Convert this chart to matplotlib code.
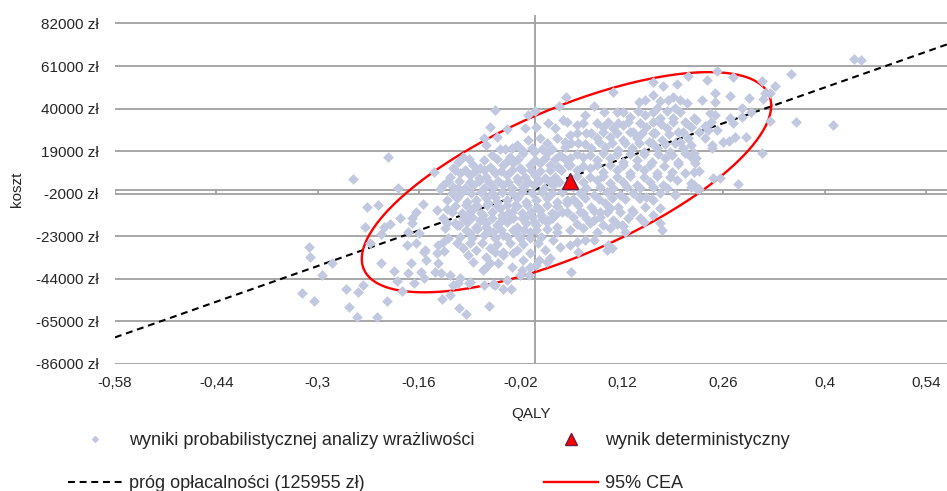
import numpy as np
import matplotlib.pyplot as plt
from matplotlib.lines import Line2D

# wyniki PSA: QALY (różnica) i koszt (zł)
qaly = [
    -0.203, -0.251, -0.140, -0.189, -0.131, -0.232, -0.217, -0.155, -0.136, -0.165,
    -0.170, -0.187, -0.200, -0.208, -0.235, -0.213, -0.175, -0.160, -0.228, -0.177,
    -0.164, -0.127, -0.312, -0.311, -0.280, -0.294, -0.212, -0.195, -0.176, -0.158,
    -0.153, -0.150, -0.136, -0.126, -0.134, -0.153, -0.130, -0.171, -0.190, -0.167,
    -0.183, -0.237, -0.261, -0.245, -0.322, -0.305, -0.257, -0.204, -0.246, -0.218,
    -0.128, -0.170, -0.122, -0.108, -0.106, -0.111, -0.124, -0.127, -0.105, -0.094,
    -0.085, -0.072, -0.090, -0.076, -0.067, -0.065, -0.055, -0.048, -0.037, -0.048,
    -0.058, -0.044, -0.030, -0.025, -0.021, -0.028, -0.014, -0.007, -0.002, 0.007,
    0.016, 0.030, 0.028, 0.044, 0.058, 0.067, 0.081, 0.090, 0.104, 0.120,
    0.106, 0.099, 0.069, 0.060, 0.048, 0.050, 0.016, 0.005, -0.007, -0.018,
    -0.008, -0.030, -0.044, -0.055, -0.062, -0.072, -0.067, -0.081, -0.092, -0.099,
    -0.108, -0.120, -0.134, -0.138, -0.117, -0.104, -0.106, -0.090, -0.071, -0.058,
    -0.044, -0.033, -0.063, -0.105, -0.095, -0.117, -0.152, -0.113,
    # rdzeń chmury (lewa część)
    -0.055, 0.000, -0.009, 0.033, 0.043, -0.062, -0.038, -0.014, 0.002, 0.018,
    0.028, 0.039, -0.071, -0.053, -0.067, -0.041, -0.025, -0.009, 0.007, 0.016,
    0.030, 0.041, -0.060, -0.035, -0.016, -0.002, 0.016, 0.035, -0.085, -0.099,
    -0.106, -0.076, -0.062, -0.044, -0.030, -0.021, -0.007, 0.007, 0.021, 0.032,
    0.046, -0.117, -0.104, -0.090, -0.078, -0.067, -0.055, -0.039, -0.025, -0.014,
    0.000, 0.014, 0.028, -0.127, -0.113, -0.097, -0.085, -0.071, -0.058, -0.044,
    -0.032, -0.016, -0.002, 0.012, 0.025, -0.122, -0.108, -0.094, -0.081, -0.067,
    -0.053, -0.039, -0.025, -0.012, 0.002, 0.016, 0.030, 0.044, -0.115, -0.101,
    -0.087, -0.074, -0.060, -0.046, -0.032, -0.018, -0.005, 0.009, 0.023, 0.037,
    -0.122, -0.108, -0.094, -0.081, -0.067, -0.053, -0.039, -0.025, -0.012, 0.002,
    0.016, 0.030, -0.104, -0.087, -0.071, -0.055, -0.039, -0.023, -0.007, 0.009,
    0.025, -0.062, -0.044, -0.025, -0.007, 0.014, 0.035, -0.085, -0.069, -0.051,
    -0.032, -0.016, 0.002, 0.021, -0.055, -0.039, -0.021, -0.113, -0.091,
    # rdzeń chmury (lewa część, gęste wypełnienie)
    -0.048, -0.032, -0.018, -0.004, 0.010, 0.024,
    -0.091, -0.070, -0.052, -0.037, -0.023, 0.000, 0.014, 0.028, 0.041,
    -0.110, -0.097, -0.083, -0.071, -0.060, -0.047, -0.032, -0.018, -0.005, 0.007, 0.021, 0.036,
    -0.120, -0.105, -0.090, -0.078, -0.064, -0.051, -0.037, -0.023, -0.009, 0.005, 0.019, 0.033,
    -0.115, -0.101, -0.088, -0.074, -0.060, -0.046, -0.032, -0.018, -0.004, 0.010, 0.024, 0.038,
    -0.110, -0.095, -0.080, -0.066, -0.053, -0.039, -0.025, -0.011, 0.003, 0.017, 0.031,
    -0.100, -0.087, -0.073, -0.060, -0.046, -0.032, -0.018, -0.004, 0.010, 0.024,
    -0.095, -0.080, -0.063, -0.047, -0.031, -0.015, 0.001, 0.017,
    -0.090, -0.073, -0.053, -0.035, -0.016, 0.004,
    # rdzeń chmury (prawa część)
    0.211, 0.177, 0.196, 0.163, 0.163, 0.108, 0.081, 0.143, 0.184, 0.193,
    0.210, 0.168, 0.069, 0.113, 0.131, 0.152, 0.173, 0.191, 0.207, 0.219,
    0.044, 0.058, 0.094, 0.108, 0.122, 0.136, 0.154, 0.163, 0.182, 0.198,
    0.216, 0.048, 0.071, 0.085, 0.104, 0.122, 0.141, 0.157, 0.175, 0.193,
    0.212, 0.041, 0.060, 0.078, 0.097, 0.115, 0.134, 0.150, 0.168, 0.187,
    0.205, 0.048, 0.067, 0.085, 0.104, 0.122, 0.141, 0.161, 0.180, 0.198,
    0.216, 0.058, 0.076, 0.094, 0.113, 0.131, 0.150, 0.168, 0.189, 0.207,
    0.067, 0.085, 0.104, 0.122, 0.141, 0.159, 0.177, 0.196, 0.216, 0.062,
    0.081, 0.099, 0.117, 0.136, 0.154, 0.173, 0.193, 0.044, 0.060, 0.078,
    0.097, 0.115, 0.134, 0.152, 0.173, 0.053, 0.071, 0.090, 0.108, 0.129,
    0.150, 0.173, 0.048, 0.067, 0.085, 0.104, 0.124, 0.058, 0.081, 0.101,
    # rdzeń chmury (prawa część, gęste wypełnienie)
    0.152, 0.173, 0.200,
    0.095, 0.122, 0.142, 0.163, 0.182, 0.200,
    0.067, 0.085, 0.101, 0.115, 0.129, 0.145, 0.163, 0.174, 0.190, 0.208,
    0.058, 0.078, 0.094, 0.113, 0.131, 0.148, 0.166, 0.185, 0.205,
    0.050, 0.069, 0.088, 0.106, 0.125, 0.143, 0.161, 0.180, 0.200,
    0.058, 0.076, 0.094, 0.113, 0.131, 0.150, 0.170, 0.189, 0.207,
    0.048, 0.067, 0.085, 0.104, 0.122, 0.141, 0.159, 0.178, 0.198,
    0.058, 0.076, 0.094, 0.113, 0.131, 0.150, 0.168, 0.187,
    0.053, 0.071, 0.090, 0.108, 0.127, 0.145, 0.163, 0.182,
    0.053, 0.069, 0.088, 0.106, 0.124, 0.143, 0.161,
    0.062, 0.081, 0.099, 0.117, 0.136,
    0.058, 0.076, 0.094, 0.113,
    # prawy skraj
    0.441, 0.450, 0.251, 0.353, 0.238, 0.273, 0.313, 0.331, 0.318, 0.325,
    0.269, 0.295, 0.249, 0.230, 0.249, 0.315, 0.286, 0.299, 0.242, 0.249,
    0.223, 0.269, 0.286, 0.325, 0.361, 0.412, 0.235, 0.274, 0.243, 0.226,
    0.239, 0.251, 0.276, 0.292, 0.235, 0.259, 0.268, 0.244, 0.244, 0.313,
    0.216, 0.219, 0.223, 0.221, 0.219, 0.226, 0.246, 0.255, 0.281, 0.219,
    0.224, 0.191, 0.145, 0.163, 0.175, 0.122, 0.145, 0.163, 0.193, 0.216,
    0.226,
]
koszt = [
    15900, 5100, 8800, 900, 100, -8800, -7600, -7100, -10100, -10900,
    -13900, -14200, -17000, -18300, -18600, -22100, -21100, -21600, -26200, -27400,
    -26200, -25800, -28500, -33200, -36400, -42200, -36400, -40100, -41400, -40600,
    -30700, -34800, -31500, -30300, -36400, -43500, -41400, -36400, -45200, -46300,
    -50000, -47100, -49100, -50700, -50900, -54900, -57900, -54900, -62800, -62800,
    -54100, -16700, -9600, -3500, 600, -16700, -19100, -14200, -17500, -12600,
    -9300, -12600, -21600, -15000, -18300, -6800, -3500, -9300, -11700, -15900,
    -20800, -22400, -14200, -19100, -24100, -7600, -13400, -20800, -15900, -10100,
    -15000, -20800, -12600, -10900, -6800, -11700, -15000, -10900, -9300, -17500,
    -29000, -29900, -24900, -30700, -27400, -40900, -35600, -34800, -38100, -39700,
    -42200, -31500, -32300, -30700, -36400, -39700, -33200, -29900, -32300, -29000,
    -26500, -24100, -27400, -40600, -42200, -43800, -46300, -45500, -47100, -46800,
    -49100, -49100, -57400, -58700, -61500, -52100, -29900, 10500,
    # rdzeń chmury (lewa część)
    39300, 38800, 36800, 41400, 45600, 30800, 29800, 30300, 31100, 32700,
    30300, 34400, 25300, 26100, 22000, 19900, 22000, 24500, 25300, 22900,
    25300, 23600, 17100, 16200, 17900, 18700, 17900, 17100, 12100, 16200,
    13800, 10500, 11300, 12100, 13000, 10500, 12100, 13000, 12100, 11300,
    12100, 6400, 8000, 7200, 5600, 6400, 8000, 7200, 5600, 6400,
    7200, 5600, 6400, 2300, 1400, 600, 2300, 600, 1400, 2300,
    600, 1400, 2300, 600, 2300, -5200, -4300, -6000, -5200, -4300,
    -6000, -5200, -4300, -6000, -5200, -4300, -6000, -5200, -10900, -11700,
    -10100, -11700, -10900, -12600, -10900, -11700, -10900, -12600, -11700, -10900,
    -16700, -17500, -15900, -18300, -16700, -17500, -15900, -18300, -16700, -17500,
    -15900, -18300, -23300, -24100, -22400, -24100, -23300, -22400, -24100, -23300,
    -24900, -29000, -30700, -29900, -31500, -29900, -28200, -35600, -38900, -36400,
    -38100, -34800, -37300, -34000, -47100, -44700, -42200, -47100, -46300,
    # rdzeń chmury (lewa część, gęste wypełnienie)
    20000, 20500, 19600, 20300, 19800, 20200,
    15000, 14600, 15300, 14800, 15200, 14700, 15400, 14900, 15100,
    9500, 9800, 9200, 9600, 9900, 9300, 9700, 9400, 9800, 9200, 9600, 9500,
    4000, 4300, 3700, 4100, 3800, 4200, 3900, 4400, 3600, 4000, 4300, 3800,
    -1500, -1200, -1800, -1400, -1700, -1300, -1600, -1100, -1900, -1400, -1600, -1300,
    -8000, -7700, -8300, -7900, -8200, -7800, -8100, -7600, -8400, -7900, -8100,
    -14000, -13700, -14300, -13900, -14200, -13800, -14100, -13600, -14400, -13900,
    -20000, -19700, -20300, -19900, -20200, -19800, -20100, -19600,
    -26500, -26200, -26800, -26400, -26700, -26300,
    # rdzeń chmury (prawa część)
    56300, 51300, 52000, 53000, 46700, 48300, 41400, 43400, 44200, 40400,
    42600, 40100, 36800, 38500, 36000, 36800, 35200, 35200, 33500, 35200,
    33500, 31900, 31100, 30300, 31900, 28600, 31100, 27800, 30300, 28600,
    31100, 27000, 27800, 25300, 26100, 24500, 25300, 23600, 24500, 22900,
    25300, 21200, 22900, 20400, 21200, 19500, 20400, 18700, 20400, 18700,
    20400, 15400, 16200, 14600, 15400, 13800, 14600, 13800, 15400, 13800,
    16200, 9700, 10500, 8800, 9700, 8000, 9700, 8000, 8800, 8000,
    3900, 4700, 3100, 3900, 2300, 3900, 2300, 4700, 3100, -1800,
    -2700, -1100, -2700, -1800, -3500, -1800, -2700, -6800, -7600, -8500,
    -6800, -8500, -10100, -8500, -9300, -13400, -14200, -13400, -15000, -14200,
    -15900, -16700, -20000, -19100, -20800, -19100, -20800, -25800, -24900, -27400,
    # rdzeń chmury (prawa część, gęste wypełnienie)
    44000, 43600, 44300,
    38500, 38200, 38800, 38400, 38700, 38300,
    33000, 32700, 33300, 32900, 33200, 32800, 33100, 32600, 33400, 32900,
    28000, 27700, 28300, 27900, 28200, 27800, 28100, 27600, 28400,
    23000, 22700, 23300, 22900, 23200, 22800, 23100, 22600, 23400,
    17500, 17200, 17800, 17400, 17700, 17300, 17600, 17100, 17900,
    12000, 11700, 12300, 11900, 12200, 11800, 12100, 11600, 12400,
    6500, 6200, 6800, 6400, 6700, 6300, 6600, 6100,
    1000, 700, 1300, 900, 1200, 800, 1100, 600,
    -4500, -4200, -4800, -4400, -4700, -4300, -4600,
    -11000, -10700, -11300, -10900, -11200,
    -17000, -16700, -17300, -16900,
    # prawy skraj
    64400, 63900, 58600, 57100, 54100, 55500, 53800, 51200, 47600, 47600,
    46400, 45100, 47900, 44200, 43400, 44700, 40400, 38500, 37700, 36800,
    34400, 35500, 36000, 33900, 33500, 31900, 31600, 32700, 33200, 28600,
    29400, 29400, 26100, 26100, 25300, 23400, 24000, 22000, 20700, 17900,
    22000, 17900, 15400, 13000, 8800, 9200, 5600, 5900, 2600, 2300,
    300, 45900, -14200, -12600, -20000, -17800, -4300, -5200, -2300, 1400,
    300,
]

# wynik deterministyczny
det_qaly = [0.048]
det_koszt = [4000]

# próg opłacalności (zł / QALY)
wtp = 125955

# 95% elipsa CEA: środek, półosie w rzucie na osie, korelacja
cea_center = (0.0435, 3600)
cea_half_qaly = 0.2827
cea_half_koszt = 54390
cea_corr = 0.696

x_ticks = [-0.58, -0.44, -0.3, -0.16, -0.02, 0.12, 0.26, 0.4, 0.54]
x_labels = ['-0,58', '-0,44', '-0,3', '-0,16', '-0,02', '0,12', '0,26', '0,4', '0,54']
y_ticks = [-86000, -65000, -44000, -23000, -2000, 19000, 40000, 61000, 82000]
y_labels = ['%d zł' % v for v in y_ticks]

plt.rcParams['font.family'] = ['Liberation Sans', 'DejaVu Sans']
text_color = '#262626'
grid_color = '#a0a0a0'
point_color = '#c1c8df'

fig = plt.figure(figsize=(9.47, 4.91), dpi=100)
ax = fig.add_axes([115 / 947, 1 - 363.6 / 491, 1 - 115 / 947, (363.6 - 15.4) / 491])
ax.set_xlim(-0.58, 0.569)
ax.set_ylim(-86000, 86000)
for s in ax.spines.values():
    s.set_visible(False)

ax.set_xticks(x_ticks)
ax.set_xticklabels(x_labels)
ax.set_yticks(y_ticks)
ax.set_yticklabels(y_labels)
ax.tick_params(length=0, labelsize=11, colors=text_color)
ax.tick_params(axis='y', pad=12)
ax.tick_params(axis='x', pad=9)

ax.grid(axis='y', color=grid_color, lw=1.3, zorder=0)
ax.grid(axis='x', visible=False)
ax.set_axisbelow(True)
ax.axvline(0, color=grid_color, lw=1.3, zorder=1)
ax.axhline(0, color=grid_color, lw=1.3, zorder=1)
ax.vlines(x_ticks, -2000, 0, color=grid_color, lw=1.3, zorder=1)

ax.axline((0, 0), slope=wtp, color='black', lw=1.5, ls=(0, (3.3, 2.3)), zorder=2)

t = np.linspace(0, 2 * np.pi, 400)
ex = cea_center[0] + cea_half_qaly * np.cos(t)
ey = cea_center[1] + cea_half_koszt * (cea_corr * np.cos(t) + np.sqrt(1 - cea_corr ** 2) * np.sin(t))
ax.plot(ex, ey, color='#ff0000', lw=1.7, zorder=2)

ax.scatter(qaly, koszt, marker='D', s=30, color=point_color, linewidths=0, zorder=3)
ax.plot(det_qaly, det_koszt, ls='none', marker='^', ms=11, mfc='#ff0000', mec='#6e1a3a', mew=1, zorder=5)

ax.set_xlabel('QALY', fontsize=11, color=text_color, labelpad=12)
ax.set_ylabel('koszt', fontsize=11, color=text_color, labelpad=8)

handles = [
    Line2D([], [], ls='none', marker='D', ms=3, color=point_color),
    Line2D([], [], color='black', lw=1.5, ls=(0, (3.3, 2.3))),
    Line2D([], [], ls='none', marker='^', ms=8, mfc='#ff0000', mec='#6e1a3a', mew=1),
    Line2D([], [], color='#ff0000', lw=1.7),
]
labels = [
    'wyniki probabilistycznej analizy wrażliwości',
    'próg opłacalności (125955 zł)',
    'wynik deterministyczny',
    '95% CEA',
]
fig.legend(handles, labels, ncol=2, loc='upper left', bbox_to_anchor=(68 / 947, 1 - 432 / 491),
           frameon=False, fontsize=13, handlelength=3.0, handletextpad=0.4,
           labelspacing=1.45, columnspacing=3.8, borderpad=0, borderaxespad=0,
           labelcolor=text_color)

fig.savefig('out.png', dpi=100)
